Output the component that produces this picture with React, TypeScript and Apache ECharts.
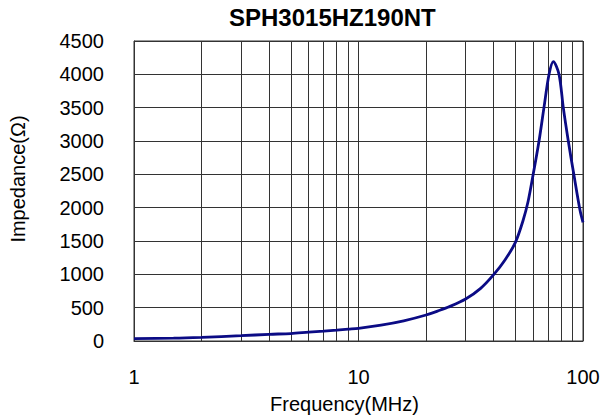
import React, { useEffect, useRef } from "react";
import * as echarts from "echarts";

const chartTitle = "SPH3015HZ190NT";
const xAxisName = "Frequency(MHz)";
const yAxisName = "Impedance(Ω)";

const freqMHz = [1, 1.5, 2, 3, 4, 5, 6, 7, 8, 9, 10, 12.6, 15.9, 20, 23.2, 25, 30, 35, 40, 45, 50, 54, 57, 60, 63.7, 67, 70.6, 73.8, 78.2, 81.7, 86, 91, 97, 100];
const impedance = [35, 42, 55, 80, 100, 112, 132, 147, 162, 177, 190, 238, 303, 390, 465, 505, 630, 790, 995, 1220, 1480, 1800, 2100, 2500, 3000, 3500, 4000, 4190, 4000, 3500, 3000, 2500, 1960, 1780];

const minorGridFreqs = [2, 3, 4, 5, 6, 7, 8, 9, 20, 30, 40, 50, 60, 70, 80, 90];

const FONT = "'Liberation Sans', Arial, Helvetica, sans-serif";
const GRID_COLOR = "#333333";

export default function App() {
  const ref = useRef<HTMLDivElement>(null);

  useEffect(() => {
    document.body.style.margin = "0";
    if (!ref.current) return;
    const chart = echarts.init(ref.current, null, { renderer: "svg" });
    const data = freqMHz.map((f, i) => [f, impedance[i]]);
    chart.setOption({
      animation: false,
      backgroundColor: "#ffffff",
      title: {
        text: chartTitle,
        left: 229,
        top: 5,
        padding: 0,
        textStyle: { fontFamily: FONT, fontSize: 24, fontWeight: "bold", color: "#000" },
      },
      grid: {
        left: 132,
        right: 26,
        top: 41,
        bottom: 78,
        show: true,
        borderColor: GRID_COLOR,
        borderWidth: 1,
      },
      xAxis: {
        type: "log",
        logBase: 10,
        min: 1,
        max: 100,
        name: xAxisName,
        nameLocation: "middle",
        nameGap: 53,
        nameTextStyle: { fontFamily: FONT, fontSize: 20, color: "#000", padding: [0, 28, 0, 0] },
        axisLine: { show: true, lineStyle: { color: GRID_COLOR, width: 1 } },
        axisTick: { show: false },
        axisLabel: {
          margin: 26,
          fontFamily: FONT,
          fontSize: 20,
          color: "#000",
          formatter: (v: number) => String(Math.round(v)),
        },
        splitLine: { show: true, lineStyle: { color: GRID_COLOR, width: 1 } },
      },
      yAxis: {
        type: "value",
        min: 0,
        max: 4500,
        interval: 500,
        name: yAxisName,
        nameLocation: "middle",
        nameRotate: 90,
        nameGap: 106,
        nameTextStyle: { fontFamily: FONT, fontSize: 20, color: "#000", padding: [0, 0, 0, 24] },
        axisLine: { show: true, lineStyle: { color: GRID_COLOR, width: 1 } },
        axisTick: { show: false },
        axisLabel: {
          margin: 30,
          fontFamily: FONT,
          fontSize: 20,
          color: "#000",
          formatter: (v: number) => String(v),
        },
        splitLine: { show: true, lineStyle: { color: GRID_COLOR, width: 1 } },
      },
      series: [
        {
          type: "line",
          data,
          smooth: 0.3,
          showSymbol: false,
          lineStyle: { color: "#0b0b85", width: 2.8 },
          z: 5,
          markLine: {
            silent: true,
            symbol: ["none", "none"],
            label: { show: false },
            lineStyle: { color: GRID_COLOR, width: 1, type: "solid" },
            emphasis: { disabled: true },
            data: minorGridFreqs.map((f) => ({ xAxis: f })),
            z: 1,
          },
        },
      ],
    });
    return () => chart.dispose();
  }, []);

  return <div ref={ref} style={{ width: 609, height: 419 }} />;
}
